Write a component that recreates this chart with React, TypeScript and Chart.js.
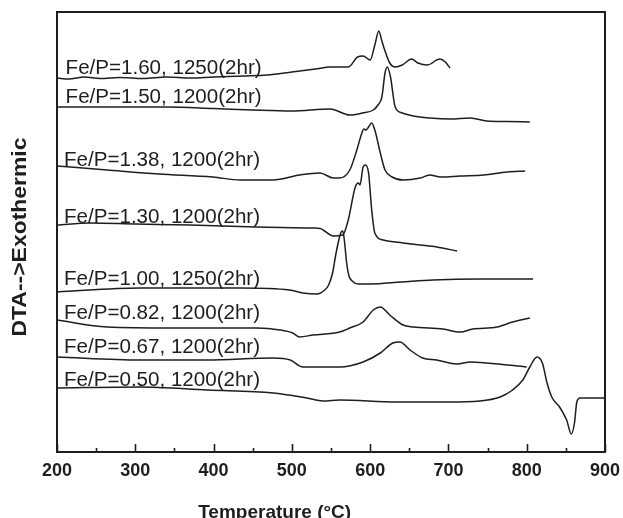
import React, { useEffect, useRef } from "react";
import { Chart, registerables } from "chart.js";

Chart.register(...registerables);

// ---- Data (temperature in °C, DTA signal in arbitrary units) ----
const t160 = [200, 215, 235, 255, 280, 310, 340, 370, 400, 440, 468, 500, 530, 549, 572, 584, 591, 600, 606, 611, 615, 619, 625, 632, 641, 653, 661, 673, 689, 696, 702];
const d160 = [374, 373, 375, 373.5, 374.5, 373.5, 375, 374, 375, 376, 377, 380, 383, 385, 385, 395, 396, 392, 407, 421, 411, 401, 389, 385, 387, 393, 389, 387, 393, 390, 384];

const t150 = [200, 264, 340, 400, 450, 500, 549, 574, 590, 604, 610, 615, 619, 622, 626, 632, 641, 655, 676, 702, 728, 749, 775, 804];
const d150 = [345, 345, 345, 343.5, 342, 341, 343, 337, 339, 342, 347, 355, 379, 385, 375, 345, 339, 336, 334, 333, 334, 331, 330.5, 330];

const t138 = [200, 264, 330, 399, 434, 476, 510, 536, 553, 561, 574, 583, 589, 592, 595, 598, 602, 606, 613, 619, 628, 642, 664, 676, 690, 715, 745, 775, 798];
const d138 = [286, 282, 278, 275, 272, 272, 277, 279, 274, 274, 282, 302, 318, 323, 322, 325, 329, 322, 299, 282, 275, 272, 274, 277, 275, 276, 277, 280, 281];

const t130 = [200, 242, 300, 370, 455, 527, 536, 553, 565, 572, 581, 585, 587, 591, 594, 598, 602, 606, 617, 642, 664, 685, 711];
const d130 = [227, 229, 228, 227, 225, 224, 223.5, 216, 217, 232, 265, 269, 267, 285, 287, 279, 242, 219, 212, 209, 207, 205, 201];

const t100 = [200, 306, 434, 497, 514, 532, 542, 547, 552, 556, 560, 563, 565, 567, 570, 573, 577, 585, 600, 640, 680, 740, 808];
const d100 = [160, 164, 164, 162, 159, 158, 162, 167, 179, 197, 212, 220, 221, 212, 189, 176, 171, 168, 168, 170, 172, 173, 173];

const t082 = [200, 264, 348, 455, 485, 501, 510, 527, 561, 574, 591, 604, 613, 625, 642, 655, 693, 715, 731, 762, 782, 804];
const d082 = [132, 125, 124, 124, 122, 119, 115, 117, 120, 124, 130, 142, 145, 137, 127, 125, 123, 120, 123, 125, 130, 134];

const t067 = [200, 306, 392, 476, 498, 514, 527, 561, 591, 613, 629, 638, 651, 667, 685, 711, 728, 749, 800];
const d067 = [95, 92, 92, 94, 92, 85, 85, 85, 90, 99, 109, 110, 102, 94, 92, 88, 90, 89, 85];

const t050 = [200, 306, 392, 476, 519, 540, 561, 634, 700, 740, 766, 782, 795, 804, 813, 820, 826, 832, 842, 851, 857, 861, 864, 868, 898, 900];
const d050 = [64, 65, 62, 59, 54, 51, 52, 50, 50, 51, 55, 62, 72, 85, 95, 89, 69, 55, 45, 32, 18, 29, 50, 54, 54, 54];

const seriesLabels = [
  "Fe/P=1.60, 1250(2hr)",
  "Fe/P=1.50, 1200(2hr)",
  "Fe/P=1.38, 1200(2hr)",
  "Fe/P=1.30, 1200(2hr)",
  "Fe/P=1.00, 1250(2hr)",
  "Fe/P=0.82, 1200(2hr)",
  "Fe/P=0.67, 1200(2hr)",
  "Fe/P=0.50, 1200(2hr)",
];
const seriesTemps = [t160, t150, t138, t130, t100, t082, t067, t050];
const seriesDTA = [d160, d150, d138, d130, d100, d082, d067, d050];

// label anchors (temperature, DTA level of text baseline)
const labelTemps = [211, 211, 209, 209, 209, 209, 209, 209];
const labelLevels = [378, 349, 286, 229, 167, 133, 99, 66];

const xMin = 200;
const xMax = 900;
const xStep = 100;
const xMinorStep = 50;
const yMin = 0;
const yMax = 440;

const xTitle = "Temperature (°C)";
const yTitle = "DTA-->Exothermic";

const INK = "#1e1e1e";

function fillStretched(ctx: CanvasRenderingContext2D, text: string, x: number, y: number, targetW: number) {
  const w = ctx.measureText(text).width;
  ctx.save();
  ctx.translate(x, y);
  ctx.scale(targetW / w, 1);
  ctx.fillText(text, 0, 0);
  ctx.restore();
}

const decorPlugin = {
  id: "decor",
  afterDatasetsDraw(chart: any) {
    const { ctx, chartArea: a, scales } = chart;
    const x = scales.x;
    const y = scales.y;
    ctx.save();
    // frame
    ctx.strokeStyle = INK;
    ctx.lineWidth = 2;
    ctx.strokeRect(a.left, a.top, a.right - a.left, a.bottom - a.top);
    // inward ticks
    ctx.lineWidth = 1.6;
    for (let v = xMin; v <= xMax; v += xMinorStep) {
      const px = Math.round(x.getPixelForValue(v)) + 0.5;
      const len = v % xStep === 0 ? 8 : 4;
      ctx.beginPath();
      ctx.moveTo(px, a.bottom);
      ctx.lineTo(px, a.bottom - len);
      ctx.stroke();
    }
    // curve labels
    ctx.fillStyle = INK;
    ctx.font = '20px "Liberation Sans", Arial, sans-serif';
    ctx.textAlign = "left";
    ctx.textBaseline = "alphabetic";
    seriesLabels.forEach((t, i) => {
      fillStretched(ctx, t, x.getPixelForValue(labelTemps[i]), y.getPixelForValue(labelLevels[i]), 196);
    });
    // x title
    ctx.font = 'bold 19px "Liberation Sans", Arial, sans-serif';
    ctx.textAlign = "center";
    ctx.fillText(xTitle, x.getPixelForValue(478), a.bottom + 66);
    // y title
    ctx.font = 'bold 20px "Liberation Sans", Arial, sans-serif';
    ctx.textBaseline = "middle";
    ctx.translate(20, (a.top + a.bottom) / 2 + 5);
    ctx.rotate(-Math.PI / 2);
    fillStretched(ctx, yTitle, 0, 0, 199);
    ctx.restore();
  },
};

export default function App() {
  const ref = useRef<HTMLCanvasElement>(null);
  useEffect(() => {
    if (!ref.current) return;
    const datasets = seriesLabels.map((label, i) => ({
      label,
      data: seriesTemps[i].map((t, j) => ({ x: t, y: seriesDTA[i][j] })),
      borderColor: INK,
      borderWidth: 1.5,
      pointRadius: 0,
      fill: false,
      cubicInterpolationMode: "monotone" as const,
    }));
    const chart = new Chart(ref.current, {
      type: "line",
      data: { datasets },
      plugins: [decorPlugin],
      options: {
        animation: false,
        responsive: false,
        maintainAspectRatio: false,
        layout: { padding: { left: 57, right: 18, top: 12, bottom: 0 } },
        plugins: { legend: { display: false }, tooltip: { enabled: false } },
        scales: {
          x: {
            type: "linear",
            min: xMin,
            max: xMax,
            position: "bottom",
            afterFit: (s: any) => {
              s.height = 66;
              s.paddingLeft = 0;
              s.paddingRight = 0;
            },
            grid: { display: false, drawTicks: false },
            border: { display: false },
            ticks: {
              stepSize: xStep,
              padding: 8,
              autoSkip: false,
              maxRotation: 0,
              color: INK,
              font: { family: '"Liberation Sans", Arial, sans-serif', size: 18, weight: "bold" },
            },
          },
          y: { type: "linear", display: false, min: yMin, max: yMax },
        },
      },
    });
    return () => chart.destroy();
  }, []);
  return (
    <div style={{ position: "fixed", left: 0, top: 0, width: 623, height: 518, background: "#fff" }}>
      <canvas ref={ref} width={623} height={518} style={{ display: "block" }} />
    </div>
  );
}
